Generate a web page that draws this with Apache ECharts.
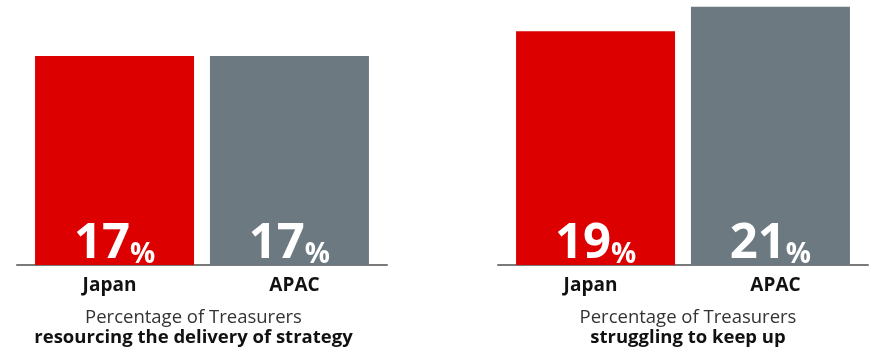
<!DOCTYPE html>
<html>
<head>
<meta charset="utf-8">
<script src="https://cdn.jsdelivr.net/npm/echarts@6/dist/echarts.min.js"></script>
<style>html,body{margin:0;padding:0;background:#fff;}#c{width:885px;height:350px;}</style>
</head>
<body>
<div id="c"></div>
<script>
var categories = ['Japan', 'APAC'];
var leftValues = [17, 17];
var rightValues = [19, 21];
var colors = ['#DD0000', '#6D7981'];
var leftCaption = ['Percentage of Treasurers', 'resourcing the delivery of strategy'];
var rightCaption = ['Percentage of Treasurers', 'struggling to keep up'];

var chart = echarts.init(document.getElementById('c'), null, {renderer: 'canvas'});
var FONT = "'Open Sans', sans-serif";
var grids = [
  {left: 17, width: 370, top: 0, bottom: 85},
  {left: 498, width: 370, top: 0, bottom: 85}
];
var xAxes = [], yAxes = [], series = [];
[leftValues, rightValues].forEach(function (vals, g) {
  xAxes.push({
    gridIndex: g, type: 'category', data: [''], position: 'bottom',
    axisLine: {show: true, lineStyle: {color: '#7a7a7a', width: 2}},
    axisTick: {show: false}, axisLabel: {show: false}
  });
  xAxes.push({
    gridIndex: g, type: 'category', data: categories, position: 'bottom',
    axisLine: {show: false}, axisTick: {show: false},
    axisLabel: {show: true, margin: 11, fontFamily: FONT, fontWeight: 'bold', fontSize: 19, color: '#111'}
  });
  yAxes.push({gridIndex: g, type: 'value', min: 0, max: 21.55, show: false, splitLine: {show: false}});
  categories.forEach(function (name, i) {
    series.push({
      type: 'bar', name: name, xAxisIndex: g * 2, yAxisIndex: g,
      data: [vals[i]], barWidth: 159, barGap: '10%',
      itemStyle: {color: colors[i]},
      silent: true, animation: false,
      label: {
        show: true, position: 'insideBottom', distance: 0, offset: [0, 4],
        formatter: function (p) { return '{v|' + p.value + '}{p|%}'; },
        rich: {
          v: {fontFamily: FONT, fontWeight: 'bold', fontSize: 49, lineHeight: 56, color: '#fff', verticalAlign: 'bottom'},
          p: {fontFamily: FONT, fontWeight: 'bold', fontSize: 28, lineHeight: 40, color: '#fff', verticalAlign: 'bottom'}
        }
      }
    });
  });
});
function caption(lines, x) {
  return {
    left: x, top: 307, textAlign: 'center',
    text: '{a|' + lines[0] + '}\n{b|' + lines[1] + '}',
    textStyle: {
      rich: {
        a: {fontFamily: FONT, fontSize: 18.5, fontWeight: 'normal', color: '#333', lineHeight: 20.5},
        b: {fontFamily: FONT, fontSize: 18.5, fontWeight: 'bold', color: '#111', lineHeight: 20.5}
      }
    },
    padding: 0
  };
}
chart.setOption({
  animation: false,
  grid: grids,
  xAxis: xAxes,
  yAxis: yAxes,
  title: [caption(leftCaption, 193.5), caption(rightCaption, 688)],
  series: series
});
</script>
</body>
</html>
